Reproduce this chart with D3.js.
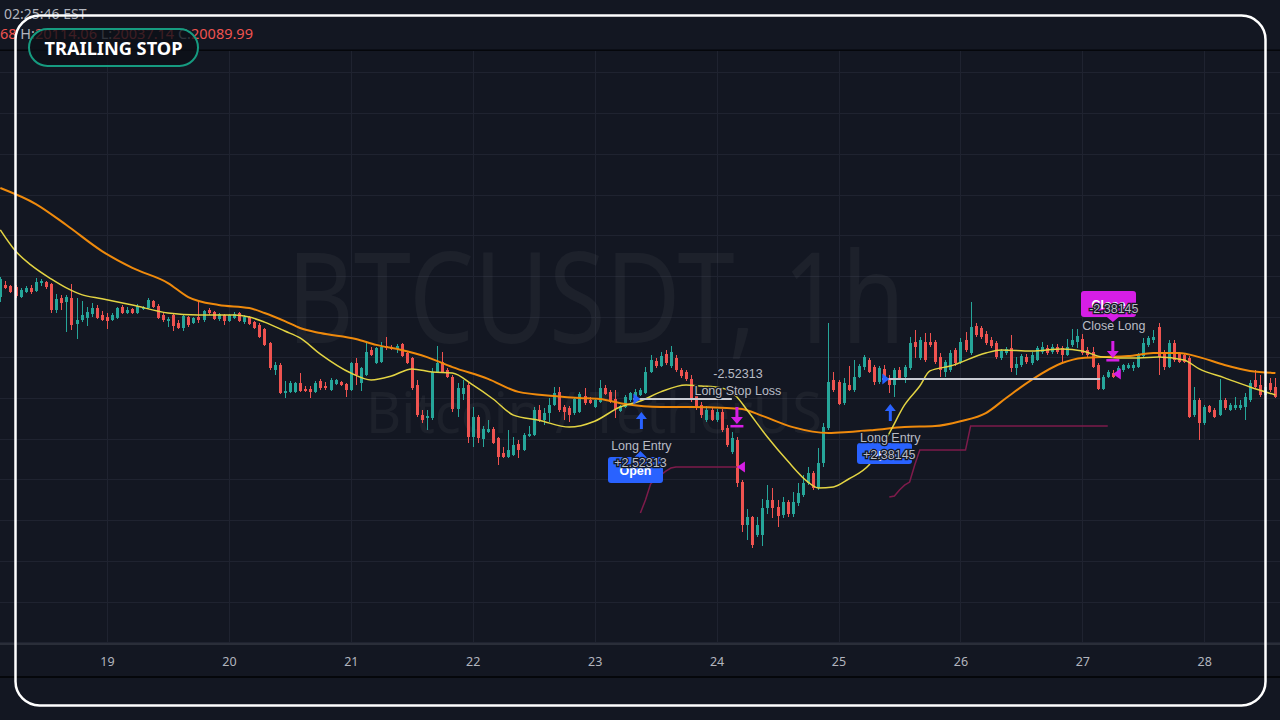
<!DOCTYPE html>
<html>
<head>
<meta charset="utf-8">
<script src="https://cdn.jsdelivr.net/npm/d3@7"></script>
<style>
  html, body { margin: 0; padding: 0; background: #131722; }
  svg { display: block; }
</style>
</head>
<body>
<svg id="chart" width="1280" height="720"></svg>
<script>
// ---- data -------------------------------------------------------------
// hourly candles from 18 Oct 03:00 (UTC), [open, high, low, close]
const candles = [
  [20496,20595,20472,20585],[20555,20575,20536,20541],[20550,20555,20516,20521],[20545,20555,20491,20501],
  [20496,20541,20491,20531],[20521,20550,20516,20541],[20541,20555,20511,20521],[20526,20590,20521,20570],
  [20565,20585,20550,20575],[20570,20575,20536,20545],[20560,20565,20418,20432],[20432,20511,20418,20486],
  [20491,20506,20432,20467],[20472,20506,20324,20496],[20491,20560,20334,20359],[20364,20491,20290,20383],
  [20383,20477,20373,20408],[20393,20447,20354,20423],[20413,20467,20398,20442],[20442,20457,20388,20393],
  [20408,20428,20378,20383],[20398,20418,20339,20378],[20383,20418,20378,20408],[20393,20447,20388,20442],
  [20447,20457,20413,20418],[20418,20447,20413,20432],[20437,20442,20413,20418],[20418,20462,20413,20452],
  [20437,20452,20432,20447],[20442,20491,20437,20482],[20477,20482,20442,20447],[20452,20462,20388,20393],
  [20408,20418,20373,20383],[20378,20398,20349,20388],[20408,20418,20329,20354],[20369,20383,20339,20344],
  [20344,20413,20329,20403],[20398,20403,20349,20359],[20369,20398,20364,20393],[20398,20472,20369,20383],
  [20383,20432,20373,20428],[20432,20442,20408,20418],[20423,20428,20383,20388],[20388,20418,20378,20413],
  [20408,20413,20359,20378],[20378,20413,20373,20408],[20393,20423,20388,20413],[20418,20423,20373,20378],
  [20373,20408,20364,20398],[20398,20403,20359,20364],[20373,20378,20339,20344],[20359,20369,20295,20300],
  [20339,20344,20256,20261],[20270,20275,20138,20148],[20138,20177,20113,20162],[20162,20172,20020,20025],
  [20025,20084,20000,20034],[20030,20084,20025,20074],[20030,20079,20025,20074],[20074,20123,20030,20034],
  [20044,20059,20030,20034],[20044,20059,20000,20030],[20030,20084,20025,20074],[20084,20094,20039,20049],
  [20059,20079,20039,20049],[20039,20099,20034,20089],[20069,20094,20064,20089],[20079,20084,20059,20064],
  [20069,20074,20005,20039],[20039,20177,20034,20172],[20172,20197,20064,20113],[20074,20152,20034,20148],
  [20113,20275,20108,20226],[20236,20251,20206,20211],[20172,20251,20167,20246],[20177,20275,20172,20251],
  [20256,20300,20236,20246],[20251,20261,20236,20241],[20241,20266,20221,20256],[20266,20270,20201,20206],
  [20221,20226,20167,20172],[20197,20201,20039,20049],[20064,20089,19907,19916],[19916,19941,19877,19891],
  [19902,19941,19843,19912],[19902,20148,19891,20128],[20128,20256,20123,20172],[20177,20226,20123,20128],
  [20138,20148,20099,20103],[20103,20113,19931,19946],[19946,20074,19907,20049],[20020,20089,19990,20049],
  [20064,20074,19779,19808],[19808,19956,19759,19907],[19907,19916,19779,19804],[19799,19862,19759,19848],
  [19833,19891,19828,19848],[19848,19858,19774,19779],[19804,19808,19671,19710],[19730,19759,19705,19710],
  [19710,19843,19705,19744],[19720,19808,19715,19769],[19774,19794,19705,19744],[19744,19828,19739,19818],
  [19813,19862,19808,19823],[19818,19956,19813,19941],[19941,19966,19882,19891],[19891,19951,19867,19926],
  [19926,20000,19882,19966],[19966,20054,19961,20025],[20030,20054,19931,19941],[19956,19966,19891,19931],
  [19951,19961,19882,19916],[19926,20000,19916,19995],[19931,20030,19926,20020],[20010,20049,19966,19975],
  [19990,20005,19970,19975],[19956,19995,19951,19990],[19980,20089,19975,20049],[20049,20064,20015,20020],
  [20030,20039,19975,19980],[19995,20039,19902,19946],[19936,19966,19931,19961],[19956,20015,19951,20005],
  [19990,20030,19980,20025],[19995,20044,19990,20030],[20015,20049,20010,20039],[20025,20152,20020,20128],
  [20128,20211,20123,20187],[20182,20197,20148,20157],[20157,20226,20152,20206],[20216,20236,20162,20172],
  [20157,20256,20148,20226],[20197,20211,20128,20138],[20138,20148,20099,20108],[20128,20138,20084,20094],
  [20094,20113,19980,19990],[20015,20030,19941,19951],[19966,19980,19902,19916],[19891,19961,19882,19941],
  [19941,19956,19886,19891],[19891,19946,19882,19931],[19931,19946,19833,19843],[19852,19867,19759,19769],
  [19735,19833,19725,19804],[19794,19808,19563,19582],[19587,19597,19341,19376],[19376,19455,19302,19415],
  [19415,19420,19263,19278],[19327,19415,19317,19376],[19327,19504,19273,19459],[19459,19572,19430,19499],
  [19499,19558,19410,19459],[19464,19499,19366,19420],[19425,19514,19410,19489],[19489,19499,19415,19430],
  [19430,19538,19415,19489],[19484,19582,19469,19533],[19523,19621,19514,19582],[19582,19661,19572,19631],
  [19631,19641,19548,19558],[19558,19754,19548,19680],[19680,19877,19661,19857],[19852,20369,19843,20079],
  [20089,20128,20030,20039],[20079,20089,19966,19970],[19975,20099,19966,20074],[20064,20157,20034,20039],
  [20039,20187,20030,20103],[20103,20167,20099,20157],[20152,20211,20138,20201],[20187,20197,20123,20128],
  [20152,20162,20064,20079],[20079,20157,20069,20148],[20143,20162,20089,20103],[20099,20113,20025,20064],
  [20064,20148,20005,20138],[20138,20152,20089,20099],[20103,20162,20074,20152],[20148,20300,20138,20270],
  [20275,20334,20197,20251],[20197,20300,20187,20285],[20275,20319,20177,20187],[20275,20319,20251,20261],
  [20275,20285,20167,20177],[20201,20221,20103,20138],[20128,20187,20103,20177],[20138,20236,20128,20221],
  [20236,20246,20157,20172],[20177,20295,20167,20275],[20285,20324,20226,20236],[20221,20472,20211,20349],
  [20354,20369,20300,20310],[20344,20354,20290,20300],[20314,20329,20261,20270],[20285,20300,20246,20256],
  [20270,20280,20192,20201],[20197,20241,20187,20231],[20221,20251,20211,20241],[20246,20310,20128,20148],
  [20148,20201,20113,20167],[20162,20216,20152,20206],[20201,20216,20167,20177],[20172,20226,20162,20211],
  [20187,20256,20182,20246],[20226,20275,20216,20251],[20246,20261,20211,20221],[20226,20266,20216,20251],
  [20251,20266,20216,20226],[20246,20256,20167,20211],[20211,20290,20206,20251],[20261,20339,20251,20285],
  [20275,20339,20246,20305],[20290,20314,20211,20221],[20236,20251,20201,20211],[20226,20251,20148,20152],
  [20162,20172,20039,20044],[20044,20113,20039,20103],[20103,20138,20099,20128],[20123,20138,20099,20103],
  [20123,20157,20113,20148],[20138,20167,20128,20162],[20148,20172,20143,20162],[20148,20177,20133,20162],
  [20152,20221,20148,20211],[20206,20295,20201,20270],[20261,20305,20251,20295],[20285,20334,20270,20300],
  [20349,20369,20113,20201],[20226,20236,20138,20152],[20152,20285,20148,20270],[20270,20285,20177,20187],
  [20221,20226,20172,20177],[20211,20221,20172,20177],[20197,20206,19902,19907],[19916,20054,19907,19990],
  [19990,20000,19794,19877],[19877,19966,19867,19956],[19961,19966,19926,19931],[19941,19951,19902,19907],
  [19916,20094,19912,19990],[19990,20000,19941,19951],[19941,19975,19936,19966],[19951,20005,19941,19966],
  [19951,19990,19941,19966],[19956,20025,19891,20005],[19990,20089,19980,20074],[20089,20138,20049,20054],
  [20064,20113,20005,20015],[20015,20099,20005,20054],[20074,20099,20030,20039],[20054,20099,20000,20005]
];

// fast moving average, [bar index, price]
const fastMA = [
  [0,20826],[3,20722],[6,20654],[10,20585],[13,20541],[16,20508],[20,20488],[26,20457],[33,20418],
  [39,20408],[46,20408],[49,20398],[52,20373],[56,20329],[59,20295],[63,20216],[69,20123],[73,20089],
  [77,20108],[81,20143],[85,20128],[89,20123],[93,20064],[97,19995],[101,19916],[106,19891],[112,19857],
  [117,19886],[122,19956],[126,19985],[130,20030],[135,20064],[138,20059],[142,20049],[145,20005],
  [147,19941],[151,19808],[155,19690],[159,19587],[161,19558],[164,19563],[167,19602],[171,19671],
  [175,19828],[178,19966],[181,20059],[183,20133],[187,20157],[194,20221],[197,20236],[203,20231],
  [209,20241],[213,20231],[217,20201],[220,20197],[224,20197],[228,20201],[233,20187],[236,20143],
  [241,20099],[246,20054],[251,20015]
];

// slow moving average, [bar index, price]
const slowMA = [
  [0,21032],[7,20953],[13,20850],[20,20722],[26,20639],[33,20565],[37,20496],[43,20457],[49,20442],
  [52,20418],[56,20378],[59,20344],[63,20319],[70,20290],[74,20261],[79,20236],[84,20201],[89,20152],
  [96,20094],[102,20030],[109,20010],[114,20000],[118,19995],[123,19970],[130,19956],[136,19956],
  [143,19951],[146,19946],[150,19912],[156,19857],[163,19828],[167,19833],[172,19843],[178,19857],
  [184,19862],[189,19886],[194,19926],[198,20000],[203,20089],[209,20172],[213,20197],[217,20201],
  [222,20206],[227,20221],[232,20221],[236,20201],[241,20162],[246,20133],[251,20123]
];

// trailing stop level while a position is open, one value per bar
const stopStart1 = 126;
const stopLevels1 = [19435,19499,19577,19602,19621,19641,19656,19661,19661,19661,19661,19661,
                     19661,19661,19661,19661,19661,19661,19661,19661];
const stopStart2 = 175;
const stopLevels2 = [19513,19518,19548,19572,19587,19671,19744,19744,19744,19744,19744,19744,
                     19744,19744,19744,19744,19862,19862,19862,19862,19862,19862,19862,19862,
                     19862,19862,19862,19862,19862,19862,19862,19862,19862,19862,19862,19862,
                     19862,19862,19862,19862,19862,19862,19862,19862];

// closed trades
const entryBars   = [126, 175];
const entryPrices = [19995, 20093];
const exitBars    = [145, 219];
const exitPrices  = [19661, 20118];
const lineStarts  = [124.6, 173.6];
const lineEnds    = [144, 216.5];
const entryArrowPrices = [19931, 19970];
const exitArrowPrices  = [19956, 20280];
const entryLabels = ["+2.52313", "+2.38145"];
const exitPnl     = ["-2.52313", "-2.38145"];
const exitLabels  = ["Long Stop Loss", "Close Long"];

const dayTicks = [19, 20, 21, 22, 23, 24, 25, 26, 27, 28];
const priceTicks = [18800,19000,19200,19400,19600,19800,20000,20200,20400,20600,20800,21000,21200,21400,21600];

// ---- layout ------------------------------------------------------------
const W = 1280, H = 720;
const paneTop = 51, paneBottom = 643;
const svg = d3.select("#chart");
const t0 = Date.UTC(2022, 9, 18, 3);
const HOUR = 3600e3;
const barTime = i => new Date(t0 + i * HOUR);

const x = d3.scaleUtc()
  .domain([barTime(0), barTime(251)])
  .range([0.32, 1275.4]);
const xi = i => x(barTime(i));
const y = d3.scaleLinear().domain([19000, 21000]).range([601.5, 194.5]);

const UP = "#26a69a", DOWN = "#ef5350";
const BLUE = "#2962ff", MAGENTA = "#d61ee6";
const FONT = "'Noto Sans', 'DejaVu Sans', sans-serif";
const LABEL_FONT = "'Liberation Sans', Arial, sans-serif";

svg.append("rect").attr("width", W).attr("height", H).attr("fill", "#131722");

svg.append("defs").append("clipPath").attr("id", "pane")
  .append("rect").attr("x", 0).attr("y", paneTop).attr("width", W).attr("height", paneBottom - paneTop);

const pane = svg.append("g").attr("clip-path", "url(#pane)");

// grid
pane.append("g").selectAll("line").data(priceTicks).join("line")
  .attr("x1", 0).attr("x2", W)
  .attr("y1", d => Math.round(y(d)) + 0.5).attr("y2", d => Math.round(y(d)) + 0.5)
  .attr("stroke", "#1f2330").attr("stroke-width", 1);
const dayDates = dayTicks.map(d => new Date(Date.UTC(2022, 9, d)));
pane.append("g").selectAll("line").data(dayDates).join("line")
  .attr("x1", d => Math.round(x(d)) + 0.5).attr("x2", d => Math.round(x(d)) + 0.5)
  .attr("y1", paneTop).attr("y2", paneBottom)
  .attr("stroke", "#1f2330").attr("stroke-width", 1);

// symbol watermark
pane.append("text").attr("x", 287).attr("y", 343)
  .attr("font-family", FONT).attr("font-size", 127)
  .attr("textLength", 618).attr("lengthAdjust", "spacingAndGlyphs")
  .attr("fill", "rgba(255,255,255,0.045)").text("BTCUSDT, 1h");
pane.append("text").attr("x", 366).attr("y", 433)
  .attr("font-family", FONT).attr("font-size", 57)
  .attr("textLength", 456).attr("lengthAdjust", "spacingAndGlyphs")
  .attr("fill", "rgba(255,255,255,0.045)").text("Bitcoin / TetherUS");

// candles
const cg = pane.append("g").attr("shape-rendering", "crispEdges");
const bars = cg.selectAll("g").data(candles).join("g");
bars.append("line")
  .attr("x1", (d, i) => Math.round(xi(i)) + 0.5).attr("x2", (d, i) => Math.round(xi(i)) + 0.5)
  .attr("y1", d => y(d[1])).attr("y2", d => y(d[2]))
  .attr("stroke", d => d[3] >= d[0] ? UP : DOWN).attr("stroke-width", 1);
bars.append("rect")
  .attr("x", (d, i) => Math.round(xi(i)) - 1).attr("width", 3)
  .attr("y", d => y(Math.max(d[0], d[3])))
  .attr("height", d => Math.max(1, Math.abs(y(d[0]) - y(d[3]))))
  .attr("fill", d => d[3] >= d[0] ? UP : DOWN);

// moving averages
const maLine = d3.line().x(d => xi(d[0])).y(d => y(d[1])).curve(d3.curveMonotoneX);
pane.append("path").attr("d", maLine(slowMA)).attr("fill", "none")
  .attr("stroke", "#ef8a0c").attr("stroke-width", 2);
pane.append("path").attr("d", maLine(fastMA)).attr("fill", "none")
  .attr("stroke", "#e3d443").attr("stroke-width", 1.5);

// trailing stop
const stopLine = d3.line().x(d => xi(d[0])).y(d => y(d[1]));
[[stopStart1, stopLevels1], [stopStart2, stopLevels2]].forEach(([s, lv]) => {
  pane.append("path").attr("d", stopLine(lv.map((v, k) => [s + k, v])))
    .attr("fill", "none").attr("stroke", "#7e1b4b").attr("stroke-width", 1.5);
});

// trade lines
entryBars.forEach((b, k) => {
  pane.append("line")
    .attr("x1", xi(lineStarts[k])).attr("x2", xi(lineEnds[k]))
    .attr("y1", y(entryPrices[k])).attr("y2", y(entryPrices[k]))
    .attr("stroke", "#c9ccd4").attr("stroke-width", 2);
});

// markers and labels
const label = (g, tx, ty, txt) => g.append("text")
  .attr("x", tx).attr("y", ty).attr("text-anchor", "middle")
  .attr("font-family", LABEL_FONT).attr("font-size", 12.5)
  .attr("fill", "#b9bcc5").attr("stroke", "#131722").attr("stroke-width", 2.5)
  .attr("paint-order", "stroke").text(txt);

const marks = svg.append("g");

// order badges (entries in blue, exit in magenta)
function badge(cx, tipY, top, h, w, color, txt, tipUp, tipX) {
  const g = marks.append("g");
  g.append("rect").attr("x", cx - w / 2).attr("y", top).attr("width", w).attr("height", h)
    .attr("rx", 3).attr("fill", color);
  const ty = tipUp ? top : top + h;
  g.append("path").attr("d", `M${tipX - 6},${ty}L${tipX},${tipY}L${tipX + 6},${ty}Z`).attr("fill", color);
  g.append("text").attr("x", cx).attr("y", top + h / 2 + 4.5).attr("text-anchor", "middle")
    .attr("font-family", LABEL_FONT).attr("font-size", 12.5).attr("font-weight", "bold")
    .attr("fill", "#ffffff").text(txt);
}
badge(635.5, 451, 457, 26, 55, BLUE, "Open", true, xi(entryBars[0]));
badge(884.5, 437, 443, 21, 55, BLUE, "Open", true, 877);
badge(1108.5, 322, 291, 26, 55, MAGENTA, "Close", false, xi(exitBars[1]));

entryBars.forEach((b, k) => {
  const cx = xi(b);
  const py = y(entryPrices[k]);
  // entry price pointer
  marks.append("path").attr("d", `M${cx},${py}L${cx - 7},${py - 5.5}L${cx - 7},${py + 5.5}Z`)
    .attr("fill", BLUE);
  // buy arrow below the bar
  const top = y(entryArrowPrices[k]);
  const ax = cx + 1;
  marks.append("path")
    .attr("d", `M${ax},${top}L${ax + 5.5},${top + 7}L${ax + 1.5},${top + 7}L${ax + 1.5},${top + 17}` +
               `L${ax - 1.5},${top + 17}L${ax - 1.5},${top + 7}L${ax - 5.5},${top + 7}Z`)
    .attr("fill", BLUE);
  label(marks, ax, top + 37.5, "Long Entry");
  label(marks, ax - 1, top + 54.5, entryLabels[k]);
});

exitBars.forEach((b, k) => {
  const cx = xi(b);
  const py = y(exitPrices[k]);
  // exit price pointer
  marks.append("path").attr("d", `M${cx},${py}L${cx + 8},${py - 5.5}L${cx + 8},${py + 5.5}Z`)
    .attr("fill", MAGENTA);
  // sell arrow above the bar
  const top = y(exitArrowPrices[k]);
  marks.append("path")
    .attr("d", `M${cx - 1.5},${top}L${cx + 1.5},${top}L${cx + 1.5},${top + 10}L${cx + 6},${top + 10}` +
               `L${cx},${top + 17}L${cx - 6},${top + 10}L${cx - 1.5},${top + 10}Z`)
    .attr("fill", MAGENTA);
  marks.append("rect").attr("x", cx - 6.5).attr("y", top + 18).attr("width", 13).attr("height", 2.5)
    .attr("fill", MAGENTA);
  label(marks, cx + 1, top - 11.5, exitLabels[k]);
  label(marks, cx + 1, top - 28.5, exitPnl[k]);
});

// time axis
svg.append("rect").attr("x", 0).attr("y", 643).attr("width", W).attr("height", 2).attr("fill", "#2a2e39");
const axis = d3.axisBottom(x).tickValues(dayDates).tickFormat(d3.utcFormat("%-d")).tickSize(0).tickPadding(0);
const ag = svg.append("g").attr("transform", "translate(0,666)").call(axis);
ag.select(".domain").remove();
ag.selectAll("text").attr("font-family", FONT).attr("font-size", 12.5)
  .attr("fill", "#b2b5be").attr("dy", 0);
svg.append("rect").attr("x", 0).attr("y", 676).attr("width", W).attr("height", 2).attr("fill", "#05070b");
svg.append("rect").attr("x", 0).attr("y", 49.5).attr("width", W).attr("height", 1.5).attr("fill", "#05070b");

// header: time and OHLC legend
svg.append("text").attr("x", 4).attr("y", 19)
  .attr("font-family", FONT).attr("font-size", 14).attr("fill", "#b2b5be").text("02:25:46 EST");
const ohlc = svg.append("text").attr("x", 0).attr("y", 39)
  .attr("font-family", FONT).attr("font-size", 14.5);
[["68", DOWN], [" H:", "#b2b5be"], ["20114.06", DOWN], [" L:", "#b2b5be"], ["20037.14", DOWN],
 [" C:", "#b2b5be"], ["20089.99", DOWN]].forEach(([t, c]) => ohlc.append("tspan").attr("fill", c).text(t));

// title pill
svg.append("rect").attr("x", 29).attr("y", 29).attr("width", 169).attr("height", 37).attr("rx", 18.5)
  .attr("fill", "rgba(12,15,23,0.78)").attr("stroke", "#169b80").attr("stroke-width", 2);
svg.append("text").attr("x", 113.5).attr("y", 54.5).attr("text-anchor", "middle")
  .attr("font-family", FONT).attr("font-size", 18).attr("font-weight", "bold")
  .attr("textLength", 138).attr("lengthAdjust", "spacingAndGlyphs")
  .attr("fill", "#ffffff").text("TRAILING STOP");

// outer frame
svg.append("rect").attr("x", 15.5).attr("y", 15.5).attr("width", 1250).attr("height", 690).attr("rx", 24)
  .attr("fill", "none").attr("stroke", "#ffffff").attr("stroke-width", 2.5);
</script>
</body>
</html>
